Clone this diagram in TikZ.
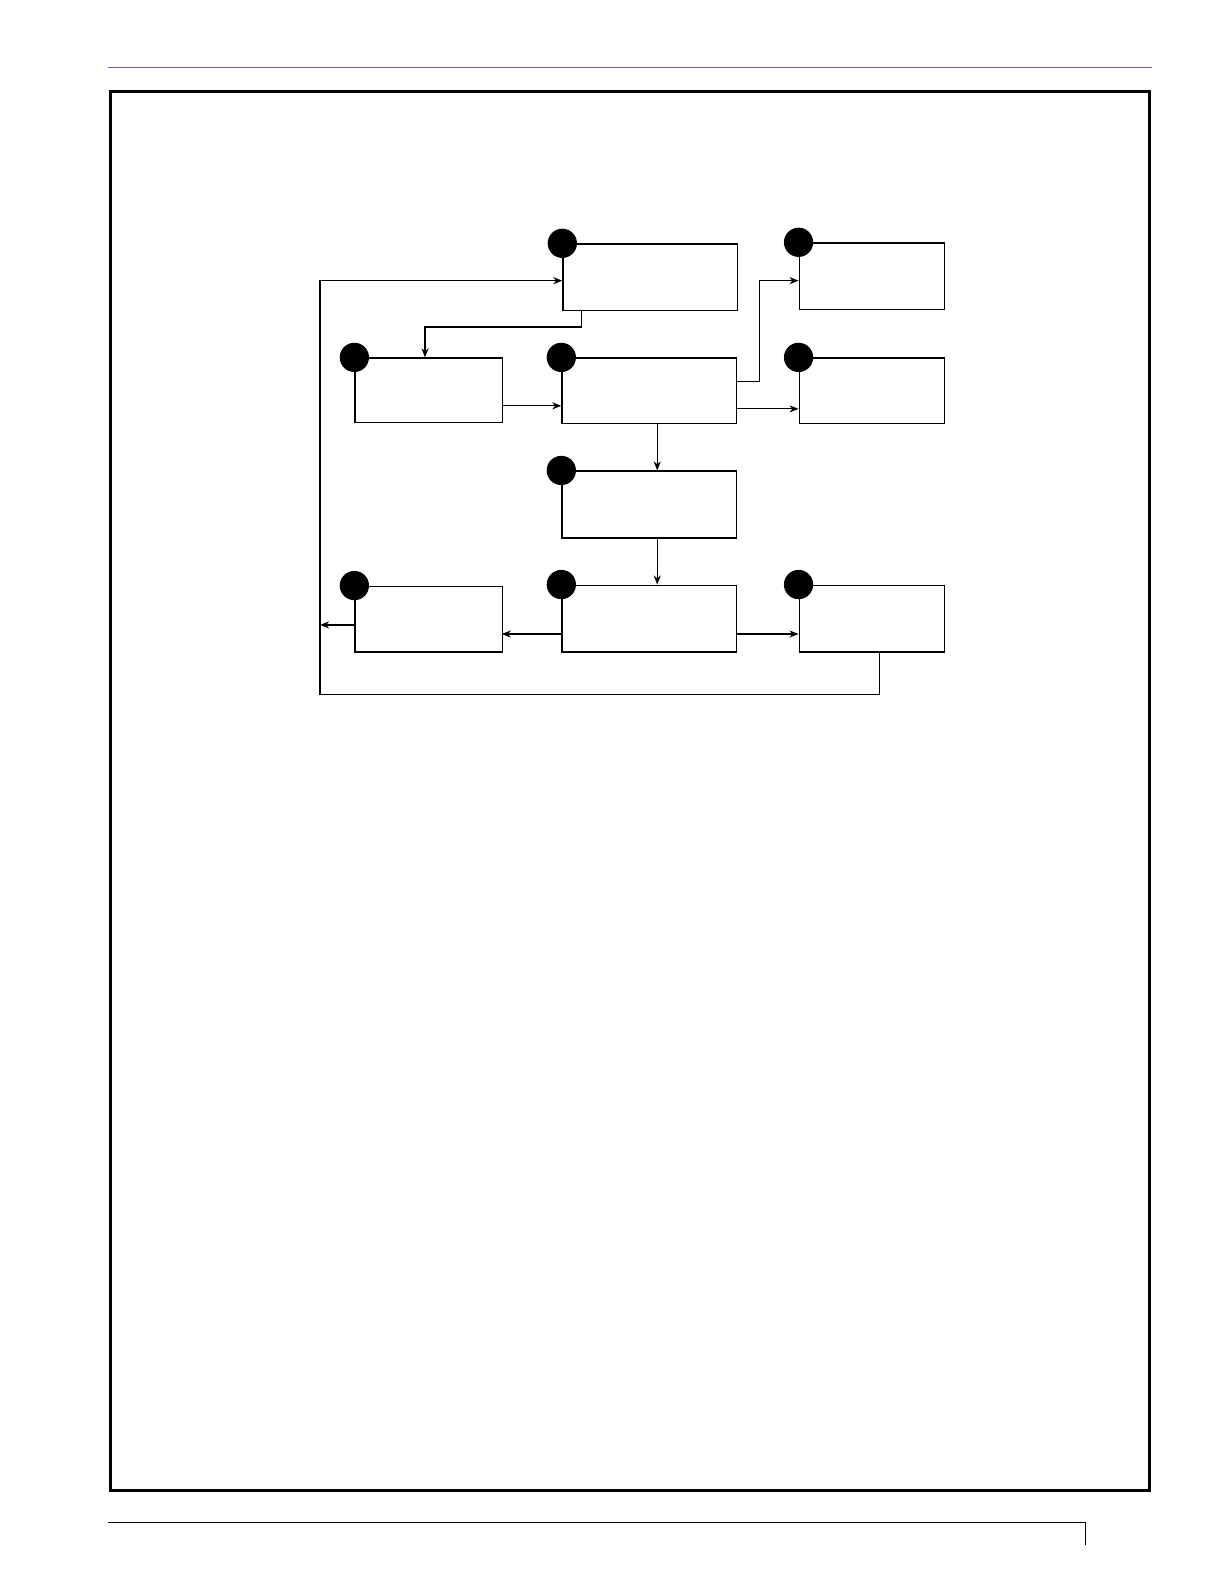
\documentclass[tikz,border=0pt]{standalone}
\usetikzlibrary{arrows.meta}
\definecolor{topline}{RGB}{100,90,170}
\begin{document}
\begin{tikzpicture}[x=1pt,y=-1pt,
  bx/.style={draw,line width=1.4pt},
  dot/.style={circle,fill=black,minimum size=29pt,inner sep=0pt},
  ar/.style={line width=1.2pt,-{Stealth[length=9pt,width=7pt]}},
  ln/.style={line width=1.2pt}]
\useasboundingbox (0,0) rectangle (1212.4,1569);
\draw[line width=0.8pt,color=topline] (107,67) -- (1141,67);
\draw[line width=3pt] (109,91) rectangle (1139,1476);
\draw[line width=0.8pt] (107,1508) -- (1075,1508) -- (1075,1530);
\foreach \n/\x/\y/\X/\Y in {A/557/241/730/307, B/351/354/497/418, C/556/354/729/419,
  D/791/240/935/306, E/791/354/935/419, F/556/466/729/532,
  G/351/580/497/645, H/556/579/729/645, I/791/579/935/645}{
  \node[bx,minimum width={\X-\x},minimum height={\Y-\y},anchor=north west,inner sep=0pt] (\n) at (\x,\y) {};
  \node[dot] (c\n) at (\x,\y) {};
}
\coordinate (pL) at (317,619);
\draw[ar] (576,307) -- (576,324) -- (421,324) -- (B.north -| 421,0);
\draw[ar] (497,402) -- (556,402);
\draw[ar] (729,378) -- (752,378) -- (752,278) -- (791,278);
\draw[ar] (729,405) -- (791,405);
\draw[ar] (C.south -| 651,0) -- (F.north -| 651,0);
\draw[ar] (F.south -| 651,0) -- (H.north -| 651,0);
\draw[ar] (556,628) -- (497,628);
\draw[ar] (729,628) -- (791,628);
\draw[ar] (351,619) -- (pL);
\draw[ar] (I.south -| 871,0) -- (871,688) -- (317,688) -- (317,278) -- (557,278);
\end{tikzpicture}
\end{document}
